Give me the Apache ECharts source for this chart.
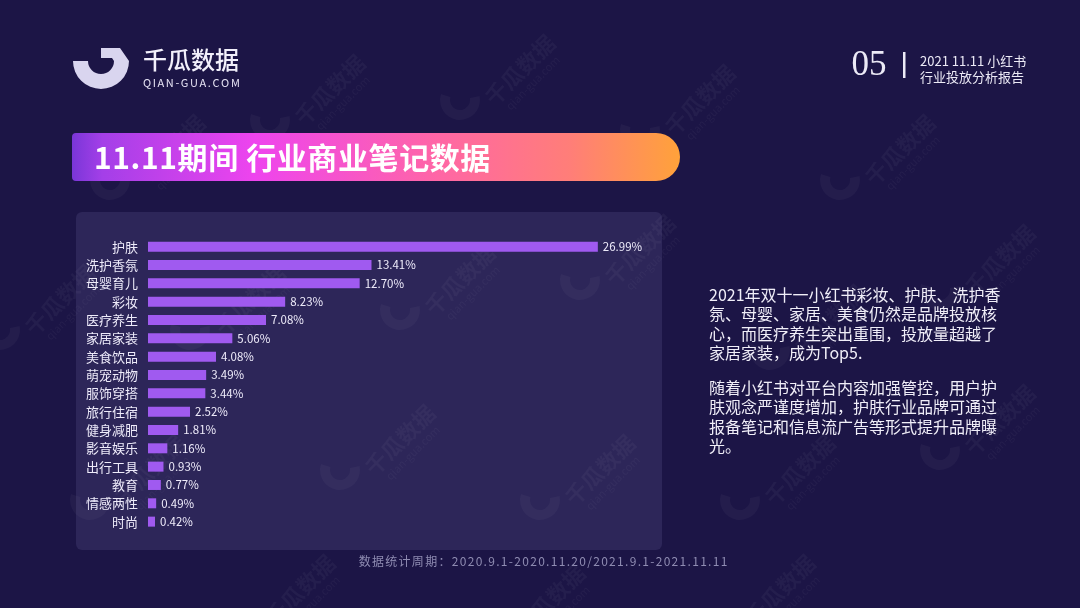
<!DOCTYPE html>
<html><head><meta charset="utf-8">
<script src="https://cdn.jsdelivr.net/npm/echarts@6/dist/echarts.min.js"></script>
<style>html,body{margin:0;padding:0;background:#1c1546;}#c{width:1080px;height:608px;}</style>
</head><body><div id="c"></div>
<script>
const categories = ['护肤','洗护香氛','母婴育儿','彩妆','医疗养生','家居家装','美食饮品','萌宠动物','服饰穿搭','旅行住宿','健身减肥','影音娱乐','出行工具','教育','情感两性','时尚'];
const shares = [26.99,13.41,12.70,8.23,7.08,5.06,4.08,3.49,3.44,2.52,1.81,1.16,0.93,0.77,0.49,0.42];
const titleText = '11.11期间 行业商业笔记数据';
const para1 = ['2021年双十一小红书彩妆、护肤、洗护香','氛、母婴、家居、美食仍然是品牌投放核','心，而医疗养生突出重围，投放量超越了','家居家装，成为Top5.'];
const para2 = ['随着小红书对平台内容加强管控，用户护','肤观念严谨度增加，护肤行业品牌可通过','报备笔记和信息流广告等形式提升品牌曝','光。'];
const footText = '数据统计周期：2020.9.1-2020.11.20/2021.9.1-2021.11.11';

const FONT = '"Noto Sans CJK SC","Noto Sans",sans-serif';
const chart = echarts.init(document.getElementById('c'), null, {renderer:'canvas'});
const mctx = document.createElement('canvas').getContext('2d');

// letter-spaced text helper: returns list of graphic text elements
function spaced(text, x, y, font, fill, spacing, align){
  mctx.font = font;
  const ws = [...text].map(ch=>mctx.measureText(ch).width);
  const total = ws.reduce((a,b)=>a+b,0) + spacing*(ws.length-1);
  let cx = align==='center' ? x - total/2 : x;
  const out=[];
  [...text].forEach((ch,i)=>{
    out.push({type:'text',x:cx,y:y,silent:true,style:{text:ch,fill:fill,font:font,textVerticalAlign:'middle'}});
    cx += ws[i]+spacing;
  });
  return out;
}

const graphics = [];
// watermarks
const wm = [[170,150],[330,90],[520,70],[700,100],[900,150],[60,300],[250,300],[460,280],[640,250],[830,320],[1000,260],[150,470],[400,440],[600,470],[800,470],[1000,420],[300,590],[550,600],[780,590]];
wm.forEach(p=>{
  graphics.push({type:'group',x:p[0],y:p[1],rotation:Math.PI/4,silent:true,children:[
    {type:'text',style:{text:'千瓜数据',fill:'rgba(255,255,255,0.04)',font:'bold 22px '+FONT,textAlign:'center',textVerticalAlign:'middle'}},
    {type:'text',y:18,style:{text:'qian-gua.com',fill:'rgba(255,255,255,0.04)',font:'11px '+FONT,textAlign:'center',textVerticalAlign:'middle'}}
  ]});
  graphics.push({type:'sector',silent:true,shape:{cx:p[0]-60,cy:p[1]+30,r:20,r0:10,startAngle:-0.2,endAngle:Math.PI+0.3},style:{fill:'rgba(255,255,255,0.035)'}});
});
// chart panel
graphics.push({type:'rect',shape:{x:76,y:212,width:586,height:338,r:6},style:{fill:'#2d2659'},z:-10});
// logo icon
graphics.push({type:'sector',shape:{cx:101,cy:61,r:28,r0:13,startAngle:0,endAngle:Math.PI,clockwise:true},style:{fill:'#d9d5ef'}});
graphics.push({type:'polygon',shape:{points:[[101,48],[120,48],[129,61],[114,61],[112,58],[101,58]]},style:{fill:'#d9d5ef'}});
graphics.push({type:'text',x:143,y:60,style:{text:'千瓜数据',fill:'#f2f0fb',font:'500 24px '+FONT,textVerticalAlign:'middle'}});
spaced('QIAN-GUA.COM',143,83,'11px '+FONT,'#e6e3f4',1.6,'left').forEach(g=>graphics.push(g));
// top right
graphics.push({type:'text',x:869,y:66,style:{text:'05',fill:'#eceaf6',font:'35px "Liberation Serif",serif',textAlign:'center',textVerticalAlign:'middle'}});
graphics.push({type:'rect',shape:{x:903,y:52,width:2.5,height:26},style:{fill:'#eceaf6'}});
graphics.push({type:'text',x:920,y:61,style:{text:'2021 11.11 小红书',fill:'#eceaf6',font:'13px '+FONT,textVerticalAlign:'middle'}});
graphics.push({type:'text',x:920,y:77,style:{text:'行业投放分析报告',fill:'#eceaf6',font:'13px '+FONT,textVerticalAlign:'middle'}});
// title bar
graphics.push({type:'rect',shape:{x:72,y:133,width:608,height:48,r:[4,24,24,4]},style:{fill:new echarts.graphic.LinearGradient(0,0,1,0,[
  {offset:0,color:'#7a36d8'},{offset:0.05,color:'#a43fe8'},{offset:0.3,color:'#ee44ee'},{offset:0.6,color:'#ff66a6'},{offset:0.82,color:'#ff7e78'},{offset:1,color:'#ffa23a'}])}});
spaced(titleText,94,158,'bold 30px '+FONT,'#ffffff',0.6,'left').forEach(g=>graphics.push(g));
// right text
para1.forEach((t,i)=>graphics.push({type:'text',x:709,y:295+i*19.3,style:{text:t,fill:'#f0eef8',font:'16px '+FONT,textVerticalAlign:'middle'}}));
para2.forEach((t,i)=>graphics.push({type:'text',x:709,y:388+i*19.3,style:{text:t,fill:'#f0eef8',font:'16px '+FONT,textVerticalAlign:'middle'}}));
// footer
spaced(footText,543,561,'12px '+FONT,'#8f8cb2',1.3,'center').forEach(g=>graphics.push(g));

chart.setOption({
  backgroundColor:'#1c1546',
  animation:false,
  graphic:graphics,
  grid:{left:148,top:237.5,width:500,height:293.3,containLabel:false},
  xAxis:{type:'value',min:0,max:30,show:false},
  yAxis:{type:'category',data:categories,inverse:true,
    axisLine:{show:false},axisTick:{show:false},splitLine:{show:false},
    axisLabel:{color:'#eeebfa',fontSize:13,margin:10,fontFamily:FONT}},
  series:[{type:'bar',data:shares,barWidth:10,itemStyle:{color:'#a05af0'},
    label:{show:true,position:'right',distance:5,color:'#eeebfa',fontSize:11.5,fontFamily:FONT,
      formatter:p=>p.value.toFixed(2)+'%'}}]
});
</script></body></html>
